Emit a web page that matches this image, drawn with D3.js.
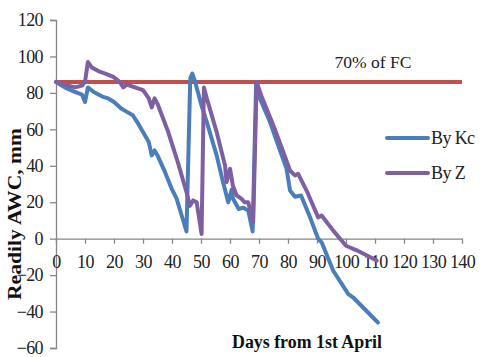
<!DOCTYPE html>
<html>
<head>
<meta charset="utf-8">
<script src="https://cdn.jsdelivr.net/npm/d3@7"></script>
<style>
  body { margin: 0; background: #fff; }
  svg { display: block; }
  .tick text { font-family: "Liberation Serif", serif; font-size: 18px; fill: #222; }
  .axis path, .axis line { stroke: #868686; stroke-width: 1.3; }
</style>
</head>
<body>
<svg id="canvas" width="480" height="357"></svg>
<script>
// data
const kcDay = [0, 3, 6.5, 9, 10, 11, 13, 16, 18, 20, 22.5, 24, 26.5, 28, 30, 32, 33, 34, 35, 37.6, 40, 41.6, 43, 45,
  46.3, 47, 48, 50, 52, 55.4, 57.6, 59.4, 60.6, 61, 63, 64.6, 66.3, 67.8,
  69, 70.3, 73.8, 77, 79.5, 80.7, 82.4, 84.5, 87.6, 90.4, 91.6, 95.6, 100.8, 102.5, 111];
const kcAwc = [86, 83, 80.5, 79, 75, 83, 80.5, 78, 77, 75, 71.4, 70, 67.7, 64, 58.5, 53, 45.7, 48.4, 45.7, 36.5, 27, 22, 14.5, 4,
  88, 90.6, 86, 74, 64, 45.7, 31, 20, 27, 22, 16.3, 17, 15.4, 4,
  85, 77, 64, 49.4, 38.4, 26.4, 23, 23.7, 11.7, 0, -2, -17.6, -30.4, -32.3, -46];

const zDay = [0, 4.2, 6.5, 9, 10, 11, 12.3, 14.6, 17, 19.8, 22, 23.2, 24.4, 27.2, 30, 32, 33, 34, 35, 38.7, 42, 45,
  46.2, 47.3, 48.5, 50.2, 51, 52, 55.4, 58.3, 58.8, 60, 61, 62.3, 64, 65, 66.3, 68,
  69.2, 70.9, 75, 78.4, 80.7, 82.4, 83.5, 86.4, 90.4, 91.6, 95.6, 100, 103.7, 110.6];
const zAwc = [86, 84, 83, 84, 86, 97, 94, 92, 90.6, 88.8, 86, 83, 84.6, 83, 81.5, 77, 72, 77, 74, 58.5, 42, 25.5,
  18, 21, 20, 2.6, 83, 77, 58.5, 40, 31, 38.4, 29, 23.7, 21.8, 20, 20, 9,
  86, 78, 62, 47.5, 37.4, 34.7, 35.6, 26.4, 11.7, 12.7, 4.4, -3.9, -6.4, -12];

const fcDay = [0, 140];
const fcAwc = [86, 86];

const xTicks = d3.range(0, 141, 10);
const yTicks = d3.range(-60, 121, 20);

const seriesNames = ['By Kc', 'By Z'];
const seriesColors = ['#4a7ebb', '#7f5fa3'];

// margins & dimensions
const margin = { top: 20, right: 18, bottom: 9, left: 56 };
const width = 480 - margin.left - margin.right;
const height = 357 - margin.top - margin.bottom;

const svg = d3.select('#canvas')
  .append('g')
    .attr('transform', `translate(${margin.left},${margin.top})`);

const x = d3.scaleLinear().domain([0, 140]).range([0, width]);
const y = d3.scaleLinear().domain([-60, 120]).range([height, 0]);

// axes
svg.append('g')
   .attr('class', 'axis')
   .call(d3.axisLeft(y).tickValues(yTicks).tickSize(6).tickPadding(7));

svg.append('g')
   .attr('class', 'axis')
   .attr('transform', `translate(0,${y(0)})`)
   .call(d3.axisBottom(x).tickValues(xTicks).tickSize(5).tickSizeOuter(0).tickPadding(12));

svg.selectAll('.tick text').attr('letter-spacing', '-0.6px');

// lines
const line = d3.line().x(d => x(d[0])).y(d => y(d[1]));

svg.append('path')
   .attr('d', line(d3.zip(fcDay, fcAwc)))
   .attr('fill', 'none')
   .attr('stroke', '#c0504d')
   .attr('stroke-width', 4);

const series = [d3.zip(kcDay, kcAwc), d3.zip(zDay, zAwc)];
svg.selectAll('.series')
  .data(series)
  .join('path')
    .attr('class', 'series')
    .attr('d', d => line(d))
    .attr('fill', 'none')
    .attr('stroke', (d, i) => seriesColors[i])
    .attr('stroke-width', 4)
    .attr('stroke-linejoin', 'round')
    .attr('stroke-linecap', 'round');

// label on the FC line
svg.append('text')
   .attr('x', 317)
   .attr('y', 48)
   .attr('text-anchor', 'middle')
   .attr('font-family', 'Liberation Serif, serif')
   .attr('font-size', 17)
   .attr('textLength', 77)
   .attr('lengthAdjust', 'spacingAndGlyphs')
   .attr('fill', '#222')
   .text('70% of FC');

// legend
const leg = svg.append('g').attr('transform', 'translate(331,118)');
seriesNames.forEach((name, i) => {
  const g = leg.append('g').attr('transform', `translate(0,${i * 35})`);
  g.append('line')
    .attr('x1', 0).attr('x2', 41)
    .attr('stroke', seriesColors[i])
    .attr('stroke-width', 4)
    .attr('stroke-linecap', 'round');
  g.append('text')
    .attr('x', 44)
    .attr('y', 6)
    .attr('font-family', 'Liberation Serif, serif')
    .attr('font-size', 18)
    .attr('letter-spacing', '-0.6px')
    .attr('fill', '#222')
    .text(name);
});

// axis titles
d3.select('#canvas').append('text')
   .attr('transform', 'translate(21,214) rotate(-90)')
   .attr('text-anchor', 'middle')
   .attr('font-family', 'Liberation Serif, serif')
   .attr('font-weight', 'bold')
   .attr('font-size', 18)
   .attr('textLength', 172)
   .attr('lengthAdjust', 'spacingAndGlyphs')
   .attr('fill', '#111')
   .text('Readily AWC, mm');

d3.select('#canvas').append('text')
   .attr('x', 307)
   .attr('y', 348)
   .attr('text-anchor', 'middle')
   .attr('font-family', 'Liberation Serif, serif')
   .attr('font-weight', 'bold')
   .attr('font-size', 18)
   .attr('textLength', 150)
   .attr('lengthAdjust', 'spacingAndGlyphs')
   .attr('fill', '#111')
   .text('Days from 1st April');
</script>
</body>
</html>
